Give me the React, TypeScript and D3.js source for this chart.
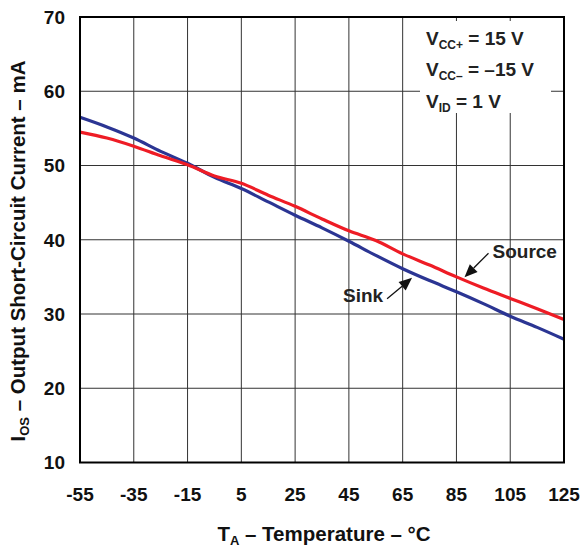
import React from "react";
import * as d3 from "d3";

const temps = [-55, -45, -35, -25, -15, -5, 5, 15, 25, 35, 45, 55, 65, 75, 85, 95, 105, 115, 125];
const sink = [56.5, 55.2, 53.7, 51.9, 50.3, 48.4, 46.9, 45.1, 43.3, 41.6, 39.8, 37.9, 36.1, 34.5, 33.0, 31.4, 29.7, 28.2, 26.6];
const source = [54.5, 53.7, 52.6, 51.3, 50.1, 48.6, 47.6, 46.0, 44.5, 42.8, 41.2, 39.9, 38.1, 36.6, 35.0, 33.5, 32.1, 30.7, 29.25];
const xTicks = [-55, -35, -15, 5, 25, 45, 65, 85, 105, 125];
const yTicks = [10, 20, 30, 40, 50, 60, 70];

const W = 582, H = 547;
const L = 80, R = 564, T = 17, B = 462.5;
const FONT = "'Liberation Sans', Arial, Helvetica, sans-serif";

export default function App() {
  const x = d3.scaleLinear().domain([-55, 125]).range([L, R]);
  const y = d3.scaleLinear().domain([10, 70]).range([B, T]);
  const line = d3.line<number>().x((_, i) => x(temps[i])).y((d) => y(d)).curve(d3.curveMonotoneX);
  const interp = (arr: number[], t: number) => {
    const i = d3.bisectRight(temps, t) - 1;
    const f = (t - temps[i]) / (temps[i + 1] - temps[i]);
    return arr[i] + f * (arr[i + 1] - arr[i]);
  };
  const srcTipT = 88, sinkTipT = 68.5;
  const sx = x(srcTipT), sy = y(interp(source, srcTipT)) - 3;
  const kx = x(sinkTipT), ky = y(interp(sink, sinkTipT)) + 5;

  const arrow = (x1: number, y1: number, x2: number, y2: number) => {
    const ang = Math.atan2(y2 - y1, x2 - x1);
    const len = 13, wid = 5.5;
    const bx = x2 - len * Math.cos(ang), by = y2 - len * Math.sin(ang);
    const px = -Math.sin(ang) * wid, py = Math.cos(ang) * wid;
    return (
      <g>
        <line x1={x1} y1={y1} x2={bx} y2={by} stroke="#111" strokeWidth={1.3} />
        <polygon points={`${x2},${y2} ${bx + px},${by + py} ${bx - px},${by - py}`} fill="#111" />
      </g>
    );
  };

  return (
    <svg width={W} height={H} style={{ position: "absolute", left: 0, top: 0, background: "#fff" }} fontFamily={FONT}>
      {xTicks.slice(1, -1).map((t) => (
        <line key={"vx" + t} x1={x(t)} x2={x(t)} y1={T} y2={B} stroke="#333" strokeWidth={1} />
      ))}
      {yTicks.slice(1, -1).map((v) => (
        <line key={"hy" + v} x1={L} x2={R} y1={y(v)} y2={y(v)} stroke="#333" strokeWidth={1} />
      ))}
      <rect x={420} y={21} width={131} height={92} fill="#fff" />
      <path d={line(sink) || ""} fill="none" stroke="#2b3593" strokeWidth={3.2} />
      <path d={line(source) || ""} fill="none" stroke="#ee1c25" strokeWidth={3.2} />
      <rect x={L} y={T} width={R - L} height={B - T} fill="none" stroke="#000" strokeWidth={2} />

      <g fontSize={19} fontWeight="bold" fill="#222">
        <text x={426} y={45}>V<tspan fontSize={12} dy={4}>CC+</tspan><tspan dy={-4}> = 15 V</tspan></text>
        <text x={426} y={76}>V<tspan fontSize={12} dy={4}>CC–</tspan><tspan dy={-4}> = –15 V</tspan></text>
        <text x={426} y={108}>V<tspan fontSize={12} dy={4}>ID</tspan><tspan dy={-4}> = 1 V</tspan></text>
      </g>

      {arrow(sx + 24, sy - 24, sx, sy)}
      <text x={sx + 28} y={sy - 19} fontSize={19} fontWeight="bold" fill="#222">Source</text>
      {arrow(kx - 25, ky + 21, kx, ky)}
      <text x={kx - 69} y={ky + 24} fontSize={19} fontWeight="bold" fill="#222">Sink</text>

      <g fontSize={19} fontWeight="bold" fill="#111">
        {yTicks.map((v) => (
          <text key={"yt" + v} x={L - 15} y={y(v)} dy="0.36em" textAnchor="end">{v}</text>
        ))}
        {xTicks.map((t) => (
          <text key={"xt" + t} x={x(t)} y={500.5} textAnchor="middle">{t}</text>
        ))}
      </g>
      <g fontSize={20.5} fontWeight="bold" fill="#111">
        <text x={(L + R) / 2 + 2} y={541} textAnchor="middle">
          T<tspan fontSize={13} dy={4}>A</tspan><tspan dy={-4}> – Temperature – °C</tspan>
        </text>
        <text transform="translate(25, 251) rotate(-90)" textAnchor="middle">
          I<tspan fontSize={13} dy={4}>OS</tspan><tspan dy={-4}> – Output Short-Circuit Current – mA</tspan>
        </text>
      </g>
    </svg>
  );
}
